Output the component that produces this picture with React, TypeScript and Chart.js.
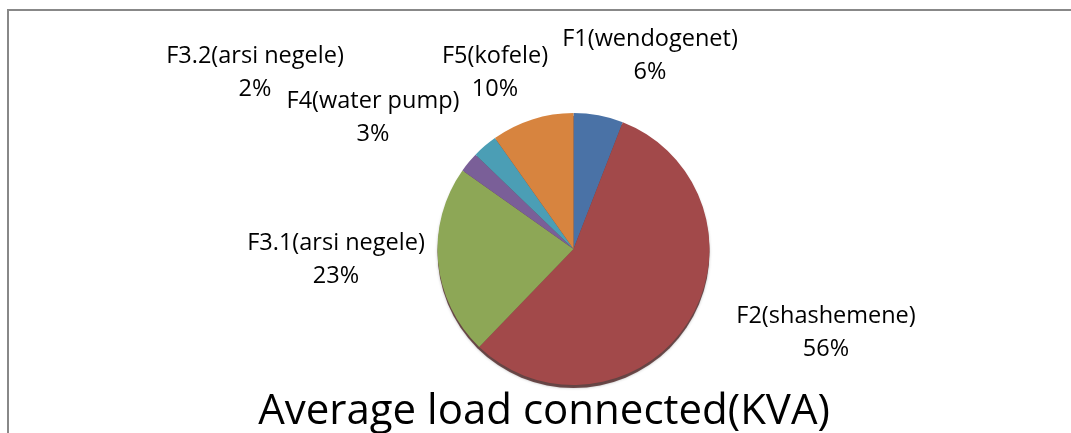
import React, { useEffect, useRef } from "react";
import { Chart, registerables } from "chart.js";

Chart.register(...registerables);

const categories = [
  "F1(wendogenet)",
  "F2(shashemene)",
  "F3.1(arsi negele)",
  "F3.2(arsi negele)",
  "F4(water pump)",
  "F5(kofele)",
];
const loadValues = [5.9, 56.3, 22.6, 2.4, 3.0, 9.8];
const sliceColors = ["#4A72A6", "#A2494A", "#8DA756", "#7A5F98", "#4B9EB5", "#D7843F"];
const chartTitle = "Average load connected(KVA)";

// label anchor (centre of the two-line label) for each slice
const labelPositions: [number, number][] = [
  [650, 56],
  [826, 333],
  [336, 260],
  [255, 73],
  [373, 118],
  [495, 73],
];

const FONT = "'Open Sans', sans-serif";

const decorPlugin = {
  id: "decor",
  beforeDraw(chart: any) {
    const ctx = chart.ctx;
    ctx.save();
    ctx.fillStyle = "#ffffff";
    ctx.fillRect(0, 0, chart.width, chart.height);
    ctx.strokeStyle = "#888888";
    ctx.lineWidth = 2;
    ctx.strokeRect(8, 10, chart.width + 50, chart.height + 50);
    ctx.restore();
  },
  beforeDatasetsDraw(chart: any) {
    const arc = chart.getDatasetMeta(0).data[0];
    if (!arc) return;
    const { x, y, outerRadius } = arc.getProps(["x", "y", "outerRadius"], true);
    const ctx = chart.ctx;
    ctx.save();
    ctx.fillStyle = "rgba(70,25,25,0.75)";
    ctx.shadowColor = "rgba(0,0,0,0.35)";
    ctx.shadowBlur = 3;
    ctx.beginPath();
    ctx.arc(x, y + 3, outerRadius, 0, Math.PI * 2);
    ctx.fill();
    ctx.restore();
  },
  afterDraw(chart: any) {
    const ctx = chart.ctx;
    const data = chart.data.datasets[0].data as number[];
    const total = data.reduce((a, b) => a + b, 0);
    ctx.save();
    ctx.fillStyle = "#000000";
    ctx.textAlign = "center";
    ctx.textBaseline = "middle";
    ctx.font = `23.5px ${FONT}`;
    data.forEach((v, i) => {
      const [x, y] = labelPositions[i];
      const pct = Math.round((v / total) * 100) + "%";
      ctx.fillText(String(chart.data.labels[i]), x, y - 16.5);
      ctx.fillText(pct, x, y + 16.5);
    });
    ctx.font = `42px ${FONT}`;
    ctx.textBaseline = "alphabetic";
    ctx.fillText(chartTitle, 544, 424);
    ctx.restore();
  },
};

export default function App() {
  const ref = useRef<HTMLCanvasElement | null>(null);
  useEffect(() => {
    if (!ref.current) return;
    const chart = new Chart(ref.current, {
      type: "pie",
      data: {
        labels: categories,
        datasets: [
          {
            data: loadValues,
            backgroundColor: sliceColors,
            borderWidth: 0,
          },
        ],
      },
      options: {
        animation: false,
        responsive: false,
        maintainAspectRatio: false,
        layout: { padding: { left: 76, right: 0, top: 113, bottom: 48 } },
        plugins: {
          legend: { display: false },
          title: { display: false },
          tooltip: { enabled: false },
        },
      },
      plugins: [decorPlugin],
    });
    return () => chart.destroy();
  }, []);
  return (
    <div style={{ position: "fixed", left: 0, top: 0, width: 1071, height: 433, background: "#fff" }}>
      <canvas ref={ref} width={1071} height={433} style={{ display: "block", width: 1071, height: 433 }} />
    </div>
  );
}
